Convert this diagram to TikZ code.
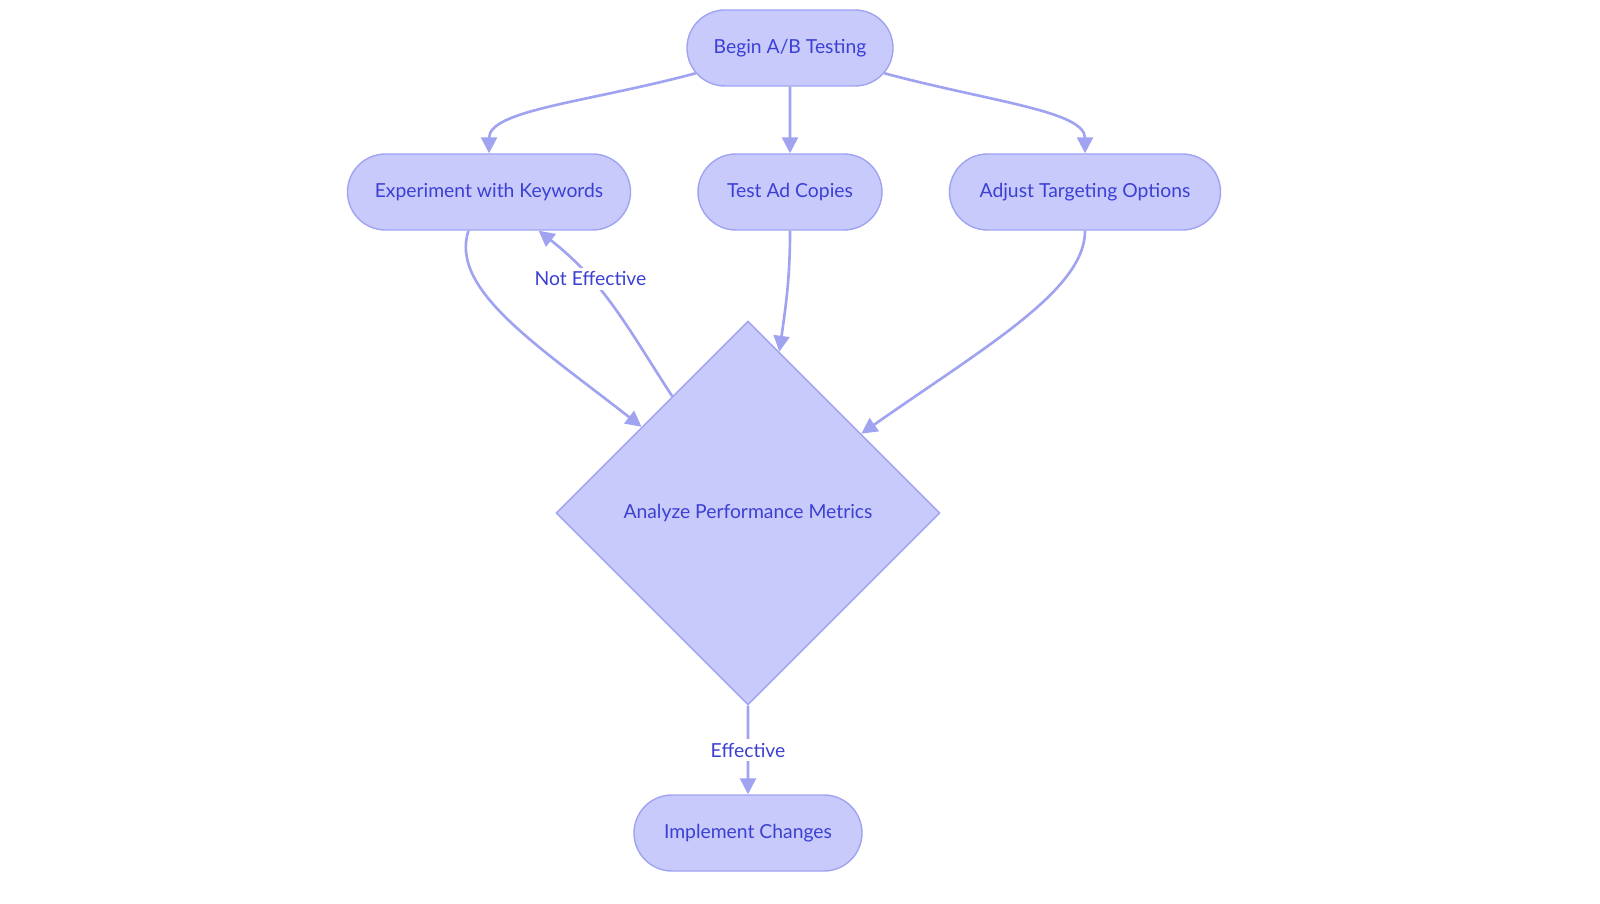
\documentclass[tikz,border=0pt]{standalone}
\usepackage{fontspec}
\setmainfont{Lato}
\usepackage{tikz}
\usetikzlibrary{shapes.geometric}
\usetikzlibrary{shapes.misc}
\usetikzlibrary{arrows.meta}

\definecolor{boxfill}{RGB}{200,202,252}
\definecolor{boxline}{RGB}{160,163,240}
\definecolor{boxtext}{RGB}{60,64,210}

\begin{document}
\begin{tikzpicture}[every node/.style={text=boxtext, font=\fontsize{11}{13}\selectfont},
    stepnode/.style={draw=boxline, fill=boxfill, rounded rectangle, line width=0.8pt, minimum height=1.52cm, inner sep=0pt},
    checknode/.style={draw=boxline, fill=boxfill, diamond, line width=0.8pt, minimum width=7.68cm, minimum height=7.68cm, inner sep=0pt},
    lbl/.style={fill=white, inner sep=2pt},
    flow/.style={draw=boxline, line width=1.5pt, -{Triangle[length=9pt,width=9pt]}}]
            \useasboundingbox (0,0) rectangle (32,18.06);
            % Nodes
            \node[stepnode, minimum width=4.12cm] (begin) at (15.8,17.1) {Begin A/B Testing};
            \node[stepnode, minimum width=5.66cm] (keyw) at (9.78,14.22) {Experiment with Keywords};
            \node[stepnode, minimum width=3.68cm] (adcopy) at (15.8,14.22) {Test Ad Copies};
            \node[stepnode, minimum width=5.42cm] (target) at (21.7,14.22) {Adjust Targeting Options};
            \node[checknode] (analyze) at (14.96,7.8) {Analyze Performance Metrics};
            \node[stepnode, minimum width=4.56cm] (impl) at (14.96,1.4) {Implement Changes};

            % Edges
            \draw[flow] (begin) to[out=195, in=90, out looseness=1.3, in looseness=0.5] (keyw);
            \draw[flow] (begin) -- (adcopy);
            \draw[flow] (begin) to[out=-15, in=90, out looseness=1.3, in looseness=0.5] (target);
            \draw[flow] (keyw.-118) to[out=-108, in=142, out looseness=0.6, in looseness=1.3] (analyze.141);
            \draw[flow] (analyze.123) to[out=123, in=-38] node[lbl, pos=0.68] (noteff) {Not Effective} (keyw.-38);
            \draw[flow] (adcopy) to[out=-90, in=82] (analyze.79);
            \draw[flow] (target) to[out=-90, in=35, out looseness=0.5, in looseness=1.3] (analyze.35);
            \draw[flow] (analyze) -- node[lbl] (eff) {Effective} (impl);
          \end{tikzpicture}
\end{document}
